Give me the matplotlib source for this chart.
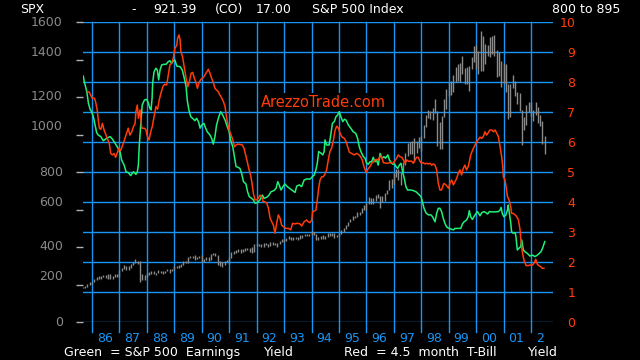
import matplotlib
matplotlib.use('Agg')
import matplotlib.pyplot as plt
import numpy as np
import pandas as pd

# ---- data ----
# S&P 500 earnings yield (%), right scale
green_years = [1985.68, 1985.72, 1985.81, 1985.87, 1985.93, 1985.99, 1986.05, 1986.11, 1986.17, 1986.23,
               1986.32, 1986.41, 1986.53, 1986.66, 1986.74, 1986.84, 1986.92, 1987.02, 1987.08, 1987.17,
               1987.24, 1987.32, 1987.41, 1987.51, 1987.60, 1987.65, 1987.69, 1987.72, 1987.77, 1987.83,
               1987.91, 1987.99, 1988.05, 1988.11, 1988.15, 1988.19, 1988.21, 1988.26, 1988.33, 1988.38,
               1988.43, 1988.48, 1988.54, 1988.62, 1988.70, 1988.78, 1988.84, 1988.90, 1988.96, 1989.02,
               1989.09, 1989.21, 1989.29, 1989.35, 1989.43, 1989.47, 1989.53, 1989.60, 1989.69, 1989.75,
               1989.81, 1989.88, 1989.94, 1990.00, 1990.08, 1990.12, 1990.20, 1990.30, 1990.36, 1990.42,
               1990.48, 1990.54, 1990.62, 1990.69, 1990.76, 1990.85, 1990.93, 1991.00, 1991.05, 1991.13,
               1991.19, 1991.25, 1991.31, 1991.39, 1991.45, 1991.52, 1991.61, 1991.67, 1991.73, 1991.82,
               1991.88, 1991.94, 1992.03, 1992.12, 1992.21, 1992.27, 1992.37, 1992.45, 1992.52, 1992.63,
               1992.71, 1992.77, 1992.82, 1992.89, 1992.97, 1993.03, 1993.12, 1993.19, 1993.28, 1993.40,
               1993.46, 1993.56, 1993.64, 1993.73, 1993.82, 1993.94, 1994.03, 1994.10, 1994.16, 1994.21,
               1994.26, 1994.33, 1994.41, 1994.46, 1994.49, 1994.55, 1994.64, 1994.71, 1994.76, 1994.83,
               1994.89, 1994.95, 1995.01, 1995.07, 1995.14, 1995.20, 1995.26, 1995.34, 1995.43, 1995.52,
               1995.61, 1995.68, 1995.74, 1995.80, 1995.89, 1995.95, 1996.01, 1996.07, 1996.13, 1996.19,
               1996.25, 1996.31, 1996.37, 1996.43, 1996.50, 1996.56, 1996.64, 1996.70, 1996.78, 1996.84,
               1996.90, 1996.96, 1997.02, 1997.08, 1997.14, 1997.20, 1997.26, 1997.32, 1997.38, 1997.44,
               1997.50, 1997.61, 1997.71, 1997.81, 1997.89, 1997.99, 1998.04, 1998.10, 1998.17, 1998.26,
               1998.35, 1998.41, 1998.50, 1998.56, 1998.62, 1998.68, 1998.74, 1998.80, 1998.86, 1998.93,
               1999.01, 1999.11, 1999.17, 1999.23, 1999.35, 1999.44, 1999.50, 1999.56, 1999.65, 1999.71,
               1999.75, 1999.80, 1999.86, 1999.92, 1999.98, 2000.05, 2000.14, 2000.20, 2000.29, 2000.36,
               2000.42, 2000.48, 2000.57, 2000.69, 2000.81, 2000.87, 2000.91, 2000.95, 2001.01, 2001.08,
               2001.14, 2001.17, 2001.21, 2001.26, 2001.29, 2001.35, 2001.42, 2001.45, 2001.50, 2001.56,
               2001.62, 2001.66, 2001.72, 2001.78, 2001.86, 2001.96, 2002.06, 2002.14, 2002.23, 2002.30,
               2002.36, 2002.42, 2002.47, 2002.50]
green_yield = [8.20, 8.01, 7.68, 7.29, 7.09, 7.00, 6.84, 6.57, 6.31, 6.23,
               6.18, 6.04, 6.12, 6.18, 6.10, 5.96, 5.84, 5.68, 5.40, 5.23,
               5.01, 4.98, 4.88, 5.01, 4.92, 5.00, 5.23, 5.84, 6.51, 7.23,
               7.40, 7.42, 7.31, 7.12, 7.07, 7.46, 7.96, 8.34, 8.46, 8.40,
               8.07, 8.40, 8.57, 8.59, 8.59, 8.68, 8.71, 8.62, 8.71, 8.73,
               8.53, 8.51, 8.40, 8.18, 7.84, 7.40, 7.07, 6.84, 6.77, 6.71,
               6.79, 6.68, 6.46, 6.57, 6.62, 6.51, 6.34, 6.23, 6.12, 5.93,
               6.18, 6.57, 6.84, 7.01, 6.90, 6.73, 6.51, 6.34, 6.07, 5.84,
               5.51, 5.18, 5.16, 5.12, 4.96, 4.68, 4.60, 4.34, 4.18, 4.12,
               4.07, 3.96, 3.98, 4.07, 4.23, 4.12, 4.16, 4.23, 4.34, 4.38,
               4.46, 4.68, 4.57, 4.40, 4.53, 4.60, 4.51, 4.46, 4.40, 4.32,
               4.53, 4.57, 4.51, 4.73, 4.77, 4.76, 4.84, 4.90, 5.07, 5.29,
               5.68, 5.64, 5.57, 5.68, 6.07, 5.90, 5.90, 6.29, 6.62, 6.68,
               6.84, 6.90, 7.01, 6.84, 6.68, 6.76, 6.73, 6.57, 6.46, 6.34,
               6.29, 6.12, 5.84, 5.68, 5.51, 5.46, 5.29, 5.26, 5.34, 5.34,
               5.49, 5.34, 5.40, 5.23, 5.62, 5.46, 5.51, 5.46, 5.57, 5.40,
               5.31, 5.26, 5.27, 5.18, 5.12, 5.23, 5.29, 5.01, 4.79, 4.51,
               4.40, 4.40, 4.38, 4.34, 4.27, 4.18, 4.01, 3.79, 3.64, 3.57,
               3.57, 3.51, 3.34, 3.62, 3.79, 3.79, 3.68, 3.46, 3.29, 3.16,
               3.12, 3.09, 3.07, 3.12, 3.12, 3.12, 3.27, 3.34, 3.40, 3.51,
               3.71, 3.51, 3.42, 3.51, 3.60, 3.68, 3.54, 3.64, 3.68, 3.64,
               3.60, 3.68, 3.67, 3.67, 3.68, 3.73, 3.82, 3.62, 3.51, 3.56,
               3.73, 3.90, 3.62, 3.31, 3.01, 2.96, 2.98, 2.84, 2.40, 2.46,
               2.51, 2.73, 2.40, 2.34, 2.29, 2.20, 2.23, 2.18, 2.23, 2.29,
               2.34, 2.46, 2.60, 2.68]

# 4.5 month T-Bill yield (%), right scale
red_years = [1985.83, 1985.90, 1985.95, 1986.01, 1986.09, 1986.13, 1986.19, 1986.23, 1986.27, 1986.32,
             1986.38, 1986.44, 1986.51, 1986.57, 1986.63, 1986.68, 1986.74, 1986.80, 1986.86, 1986.92,
             1986.98, 1987.04, 1987.12, 1987.20, 1987.26, 1987.32, 1987.38, 1987.45, 1987.51, 1987.57,
             1987.60, 1987.65, 1987.69, 1987.75, 1987.81, 1987.90, 1987.96, 1988.02, 1988.08, 1988.14,
             1988.20, 1988.26, 1988.33, 1988.39, 1988.45, 1988.51, 1988.58, 1988.64, 1988.72, 1988.78,
             1988.84, 1988.90, 1988.96, 1989.02, 1989.09, 1989.12, 1989.17, 1989.21, 1989.24, 1989.30,
             1989.37, 1989.43, 1989.49, 1989.55, 1989.61, 1989.67, 1989.73, 1989.79, 1989.84, 1989.90,
             1989.97, 1990.06, 1990.15, 1990.24, 1990.30, 1990.36, 1990.42, 1990.48, 1990.54, 1990.60,
             1990.66, 1990.73, 1990.79, 1990.85, 1990.88, 1990.93, 1991.00, 1991.07, 1991.13, 1991.19,
             1991.25, 1991.31, 1991.39, 1991.48, 1991.54, 1991.60, 1991.66, 1991.72, 1991.78, 1991.84,
             1991.88, 1991.94, 1992.00, 1992.06, 1992.12, 1992.18, 1992.24, 1992.30, 1992.37, 1992.43,
             1992.49, 1992.55, 1992.61, 1992.67, 1992.73, 1992.79, 1992.85, 1992.91, 1992.97, 1993.07,
             1993.16, 1993.24, 1993.31, 1993.40, 1993.48, 1993.58, 1993.64, 1993.73, 1993.82, 1993.88,
             1993.94, 1994.01, 1994.04, 1994.10, 1994.16, 1994.21, 1994.26, 1994.31, 1994.37, 1994.43,
             1994.49, 1994.55, 1994.61, 1994.67, 1994.73, 1994.80, 1994.86, 1994.92, 1994.98, 1995.04,
             1995.12, 1995.20, 1995.26, 1995.32, 1995.38, 1995.46, 1995.55, 1995.65, 1995.73, 1995.79,
             1995.85, 1995.91, 1995.99, 1996.05, 1996.13, 1996.19, 1996.25, 1996.31, 1996.37, 1996.43,
             1996.50, 1996.56, 1996.62, 1996.74, 1996.86, 1996.98, 1997.04, 1997.10, 1997.16, 1997.22,
             1997.29, 1997.35, 1997.41, 1997.47, 1997.53, 1997.65, 1997.71, 1997.77, 1997.83, 1997.89,
             1997.95, 1998.01, 1998.07, 1998.14, 1998.20, 1998.26, 1998.32, 1998.38, 1998.44, 1998.50,
             1998.56, 1998.62, 1998.68, 1998.74, 1998.80, 1998.83, 1998.90, 1998.99, 1999.05, 1999.11,
             1999.17, 1999.23, 1999.29, 1999.35, 1999.41, 1999.47, 1999.53, 1999.59, 1999.65, 1999.71,
             1999.75, 1999.80, 1999.85, 1999.90, 1999.96, 2000.02, 2000.08, 2000.14, 2000.20, 2000.26,
             2000.32, 2000.38, 2000.44, 2000.50, 2000.57, 2000.63, 2000.69, 2000.75, 2000.81, 2000.87,
             2000.93, 2000.97, 2000.99, 2001.05, 2001.09, 2001.14, 2001.20, 2001.26, 2001.29, 2001.35,
             2001.42, 2001.48, 2001.54, 2001.60, 2001.63, 2001.68, 2001.74, 2001.82, 2001.90, 2001.96,
             2002.06, 2002.12, 2002.17, 2002.23, 2002.30, 2002.36, 2002.41, 2002.47]
red_yield = [7.68, 7.66, 7.57, 7.46, 7.46, 7.34, 7.07, 6.73, 6.46, 6.42,
             6.62, 6.40, 6.23, 6.09, 5.96, 5.62, 5.57, 5.62, 5.49, 5.64,
             5.79, 5.71, 5.90, 6.12, 6.29, 6.46, 6.23, 6.34, 6.51, 6.62,
             7.01, 7.23, 6.79, 7.07, 6.46, 6.46, 6.42, 6.18, 6.07, 6.34,
             6.53, 6.84, 7.18, 7.09, 7.40, 7.62, 7.84, 7.92, 7.90, 8.23,
             8.57, 8.62, 8.79, 9.12, 9.23, 9.46, 9.57, 9.40, 9.01, 8.84,
             8.46, 8.12, 7.84, 8.01, 8.29, 8.32, 8.12, 7.98, 7.79, 7.98,
             8.09, 8.15, 8.29, 8.42, 8.29, 8.12, 7.98, 7.79, 7.73, 7.68,
             7.57, 7.46, 7.34, 7.18, 6.96, 6.68, 6.40, 6.23, 6.07, 5.84,
             5.90, 5.93, 5.92, 5.90, 5.79, 5.57, 5.34, 5.09, 4.90, 4.57,
             4.29, 4.07, 4.07, 4.12, 4.23, 4.18, 4.01, 4.01, 3.96, 3.79,
             3.46, 3.34, 3.23, 2.96, 3.29, 3.57, 3.46, 3.23, 3.18, 3.12,
             3.12, 3.07, 3.29, 3.27, 3.29, 3.27, 3.20, 3.34, 3.40, 3.34,
             3.31, 3.40, 3.68, 3.70, 3.73, 4.07, 4.46, 4.73, 4.84, 4.84,
             4.93, 5.07, 5.40, 5.68, 5.79, 6.07, 6.40, 6.53, 6.46, 6.29,
             6.16, 6.12, 6.01, 5.84, 5.66, 5.62, 5.57, 5.62, 5.57, 5.51,
             5.40, 5.18, 4.99, 5.09, 5.18, 5.29, 5.34, 5.40, 5.42, 5.40,
             5.53, 5.49, 5.31, 5.29, 5.31, 5.29, 5.38, 5.46, 5.57, 5.51,
             5.49, 5.40, 5.29, 5.40, 5.36, 5.36, 5.29, 5.40, 5.49, 5.49,
             5.36, 5.29, 5.31, 5.27, 5.29, 5.27, 5.29, 5.23, 5.27, 5.23,
             5.07, 4.62, 4.40, 4.40, 4.57, 4.62, 4.57, 4.46, 4.64, 4.73,
             4.57, 4.68, 4.79, 4.96, 5.07, 4.90, 5.12, 5.23, 5.07, 5.18,
             5.34, 5.57, 5.68, 5.79, 5.90, 6.01, 6.09, 6.16, 6.12, 6.18,
             6.34, 6.23, 6.31, 6.40, 6.40, 6.34, 6.40, 6.29, 6.18, 5.84,
             5.51, 5.18, 4.84, 4.73, 4.51, 4.18, 4.07, 3.84, 3.62, 3.62,
             3.57, 3.51, 3.40, 3.07, 2.73, 2.34, 2.07, 1.88, 1.88, 1.90,
             1.90, 1.98, 2.09, 1.92, 1.87, 1.84, 1.79, 1.79]

# SPX monthly high / low bars (left scale), Sep 1985 .. Jul 2002
spx_first_month = '1985-09-01'
spx_high = [188, 191, 203, 213,
            214, 228, 240, 244, 248, 252, 253, 254, 254, 245, 255, 254,
            280, 286, 302, 301, 297, 310, 320, 338, 328, 328, 256, 249,
            260, 268, 272, 271, 263, 275, 274, 274, 274, 285, 281, 283,
            298, 300, 302, 312, 324, 327, 347, 353, 352, 360, 348, 354,
            360, 337, 345, 345, 362, 369, 370, 356, 326, 318, 323, 333,
            345, 372, 378, 384, 391, 390, 391, 396, 397, 393, 398, 418,
            421, 418, 415, 420, 420, 418, 425, 425, 423, 420, 432, 441,
            443, 450, 457, 452, 454, 455, 452, 464, 464, 470, 470, 471,
            483, 482, 471, 452, 458, 463, 460, 477, 475, 474, 474, 465,
            474, 489, 503, 515, 534, 550, 565, 565, 586, 587, 608, 622,
            637, 665, 661, 659, 679, 681, 673, 670, 690, 706, 758, 761,
            794, 817, 817, 802, 851, 899, 955, 961, 963, 983, 963, 987,
            993, 1050, 1105, 1131, 1124, 1143, 1190, 1127, 1066, 1100, 1192, 1244,
            1280, 1283, 1316, 1362, 1375, 1384, 1421, 1354, 1362, 1365, 1414, 1474,
            1478, 1445, 1553, 1528, 1482, 1480, 1518, 1525, 1530, 1450, 1438, 1390,
            1384, 1377, 1267, 1269, 1316, 1285, 1226, 1220, 1133, 1094, 1160, 1173,
            1176, 1130, 1173, 1147, 1106, 1070, 994]
spx_low = [180, 181, 189, 200,
           203, 211, 224, 228, 232, 239, 233, 232, 228, 231, 240, 241,
           242, 272, 282, 276, 279, 288, 302, 315, 308, 216, 222, 223,
           240, 250, 256, 255, 250, 259, 262, 256, 260, 271, 263, 271,
           275, 287, 287, 293, 306, 315, 316, 343, 342, 332, 337, 340,
           320, 320, 329, 325, 330, 355, 351, 306, 297, 294, 302, 321,
           309, 340, 362, 369, 373, 368, 372, 378, 383, 375, 370, 371,
           404, 405, 400, 399, 410, 402, 408, 412, 410, 401, 416, 426,
           428, 430, 443, 435, 437, 441, 439, 445, 450, 458, 459, 461,
           464, 465, 437, 436, 444, 443, 444, 455, 461, 458, 449, 451,
           457, 469, 482, 498, 510, 531, 543, 553, 559, 572, 579, 600,
           597, 631, 628, 631, 643, 659, 606, 638, 646, 682, 702, 716,
           737, 772, 756, 733, 798, 836, 885, 894, 896, 855, 902, 927,
           912, 980, 1042, 1090, 1081, 1076, 1114, 940, 923, 923, 1096, 1136,
           1204, 1212, 1226, 1282, 1283, 1282, 1322, 1269, 1268, 1233, 1348, 1387,
           1350, 1325, 1339, 1339, 1374, 1421, 1415, 1432, 1420, 1305, 1314, 1254,
           1274, 1228, 1081, 1091, 1246, 1203, 1165, 1124, 944, 1026, 1053, 1122,
           1101, 1074, 1106, 1063, 1048, 952, 895]

year_ticks = list(range(1986, 2003))
year_labels = ['86', '87', '88', '89', '90', '91', '92', '93', '94', '95',
               '96', '97', '98', '99', '00', '01', '2']
spx_ticks = [0, 200, 400, 600, 800, 1000, 1200, 1400, 1600]
yield_ticks = list(range(0, 11))

header = [('SPX', 20), ('-', 131), ('921.39', 153), ('(CO)', 215), ('17.00', 256),
          ('S&P 500 Index', 312), ('800 to 895', 552)]
footer = [('Green  = S&P 500  Earnings', 64), ('Yield', 264),
          ('Red  = 4.5  month  T-Bill', 344), ('Yield', 528)]

BLUE = '#1895F5'
GREEN = '#20F07A'
RED = '#FF3C0A'
GRAY = '#8A8A8A'
FS = 9

plt.rcParams['font.family'] = 'DejaVu Sans'

fig = plt.figure(figsize=(6.4, 3.6), dpi=100, facecolor='black')
rect = [83 / 640, 38 / 360, 470 / 640, 300 / 360]
xlim = (1985.672, 2002.80)

# bottom axes: grid, SPX bars, left scale
ax_spx = fig.add_axes(rect)
ax_spx.set_facecolor('black')
ax_spx.set_xlim(*xlim)
ax_spx.set_ylim(0, 1600)
for s in ax_spx.spines.values():
    s.set_visible(False)
for v in np.linspace(0, 1600, len(yield_ticks)):
    ax_spx.axhline(v, color=BLUE, lw=1, zorder=1)
for yr in year_ticks:
    ax_spx.axvline(yr, ymin=-0.034, ymax=1, color=BLUE, lw=1, clip_on=False, zorder=1)

months = pd.date_range(spx_first_month, periods=len(spx_high), freq='MS')
spx_x = months.year + (months.month - 1) / 12
ax_spx.vlines(spx_x, spx_low, spx_high, color=GRAY, lw=1, zorder=2)

ax_spx.set_xticks([])
ax_spx.set_yticks(spx_ticks)
ax_spx.tick_params(axis='y', length=5, width=1, color='#B0B0B0', labelleft=False)
# the original snaps the left labels up to the nearest half gridline
for v in spx_ticks:
    ax_spx.text(-0.043, np.ceil(v / 80) * 80, str(v), transform=ax_spx.get_yaxis_transform(),
                ha='right', va='center', color=GRAY, fontsize=FS)

# top axes: yields, right scale
ax = fig.add_axes(rect)
ax.patch.set_visible(False)
ax.set_xlim(*xlim)
ax.set_ylim(0, 10)
for s in ax.spines.values():
    s.set_visible(False)
ax.plot(green_years, green_yield, color=GREEN, lw=1.1, zorder=3)
ax.plot(red_years, red_yield, color=RED, lw=1.1, zorder=3)

ax.yaxis.tick_right()
ax.set_yticks(yield_ticks)
ax.tick_params(axis='y', length=0, pad=16, labelcolor=RED, labelsize=FS)
for t in ax.get_yticklabels():
    t.set_horizontalalignment('right')
ax.set_xticks([])
for yr, lab in zip(year_ticks, year_labels):
    ax.text(yr + 0.18, -0.067, lab, transform=ax.get_xaxis_transform(),
            ha='left', va='baseline', color=BLUE, fontsize=FS)

ax.text(0.378, 0.733, 'ArezzoTrade.com', transform=ax.transAxes, ha='left', va='center',
        color=RED, fontsize=10.5, zorder=4,
        bbox=dict(facecolor='black', edgecolor='none', pad=1))

for txt, x in header:
    fig.text(x / 640, 1 - 13 / 360, txt, ha='left', va='baseline', color='white', fontsize=FS)
for txt, x in footer:
    fig.text(x / 640, 1 - 356 / 360, txt, ha='left', va='baseline', color='white', fontsize=FS)

fig.savefig('out.png', dpi=100, facecolor='black')
